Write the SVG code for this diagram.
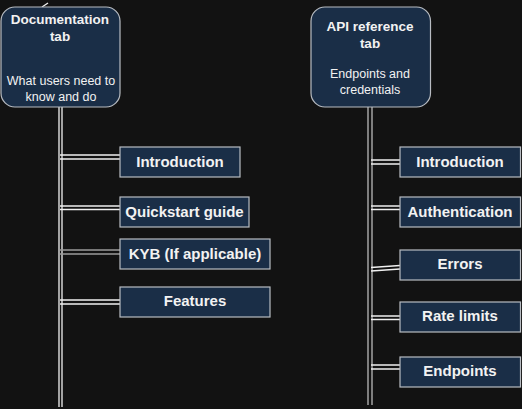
<svg xmlns="http://www.w3.org/2000/svg" width="522" height="409" viewBox="0 0 522 409">
<style>
.bg{fill:#121212}
.tab{fill:#1a2e47;stroke:#b8bcc2;stroke-width:1.2}
.box{fill:#1a2e47;stroke:#b8bcc2;stroke-width:1.2}
.t{font-family:"Liberation Sans",Arial,sans-serif;fill:#f2f2f2;text-anchor:middle}
.h{font-weight:bold;font-size:13.5px}
.s{font-size:12.5px}
.l{font-weight:bold;font-size:15px}
.w{stroke:#f0f0f0;stroke-width:1.3;fill:none}
.g{stroke:#9a9a9a;stroke-width:1.6;fill:none}
</style>
<rect class="bg" x="0" y="0" width="522" height="409"/>
<g id="connectors">
<path class="w" d="M42,7 L48,3"/>
<path class="w" d="M59,107 V407 M62,107 V407"/>
<path class="w" d="M60,155 H120 M60,159 H120"/>
<path class="w" d="M60,206 H120 M60,209.5 H120"/>
<path class="g" d="M60,250 H120 M60,254 H120"/>
<path class="w" d="M60,300 H120 M60,304 H120"/>
<path class="g" d="M368,95 V405 M372,95 V405"/>
<path class="w" d="M371,160 H400 M371,164 H400"/>
<path class="w" d="M371,206 H400 M371,209.5 H400"/>
<path class="w" d="M371,267.5 L400,265.5 M371,271 L400,269"/>
<path class="w" d="M371,316 H400 M371,319.5 H400"/>
<path class="w" d="M371,365 H400 M371,369 H400"/>
</g>
<g id="doc-tab">
<rect class="tab" x="1" y="7" width="119" height="100" rx="14"/>
<text class="t h" x="60" y="24">Documentation</text>
<text class="t h" x="60" y="41">tab</text>
<text class="t s" x="61" y="85">What users need to</text>
<text class="t s" x="61" y="101">know and do</text>
</g>
<g id="api-tab">
<rect class="tab" x="311" y="7" width="119.5" height="100" rx="14"/>
<text class="t h" x="370" y="31">API reference</text>
<text class="t h" x="370" y="48">tab</text>
<text class="t s" x="370" y="78">Endpoints and</text>
<text class="t s" x="370" y="94">credentials</text>
</g>
<g id="doc-intro">
<rect class="box" x="120" y="147" width="120" height="30"/>
<text class="t l" x="180" y="167">Introduction</text>
</g>
<g id="doc-quickstart">
<rect class="box" x="120" y="197" width="129" height="30"/>
<text class="t l" x="184.5" y="217">Quickstart guide</text>
</g>
<g id="doc-kyb">
<rect class="box" x="120" y="239" width="150" height="30"/>
<text class="t l" x="195" y="259">KYB (If applicable)</text>
</g>
<g id="doc-features">
<rect class="box" x="120" y="287" width="150" height="30"/>
<text class="t l" x="195" y="306">Features</text>
</g>
<g id="api-intro">
<rect class="box" x="400" y="147" width="120.5" height="30"/>
<text class="t l" x="460" y="167">Introduction</text>
</g>
<g id="api-auth">
<rect class="box" x="400" y="197" width="120.5" height="30"/>
<text class="t l" x="460" y="217">Authentication</text>
</g>
<g id="api-errors">
<rect class="box" x="400" y="250" width="120.5" height="30"/>
<text class="t l" x="460" y="269">Errors</text>
</g>
<g id="api-rate">
<rect class="box" x="400" y="302" width="120.5" height="30"/>
<text class="t l" x="460" y="321">Rate limits</text>
</g>
<g id="api-endpoints">
<rect class="box" x="400" y="357" width="120.5" height="30"/>
<text class="t l" x="460" y="376">Endpoints</text>
</g>
</svg>
